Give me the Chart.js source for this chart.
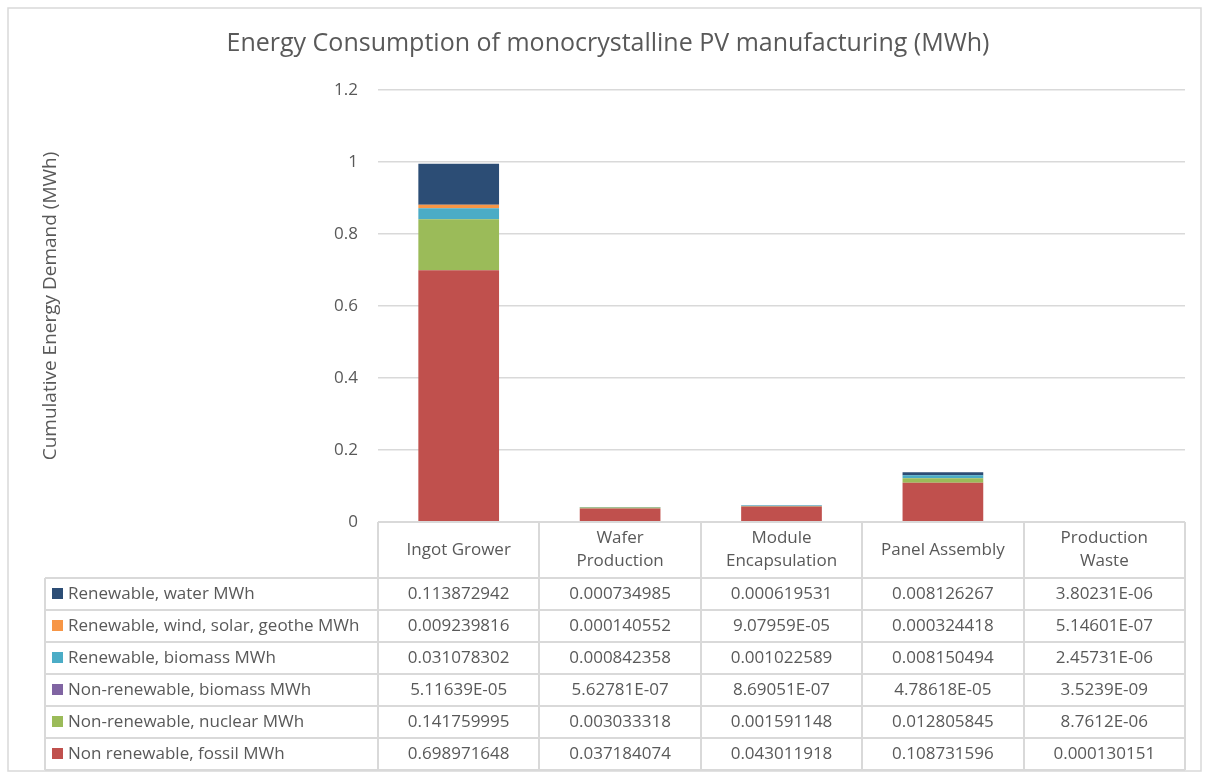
<!DOCTYPE html>
<html>
<head>
<meta charset="utf-8">
<script src="https://cdn.jsdelivr.net/npm/chart.js@4/dist/chart.umd.min.js"></script>
<style>
  html, body { margin: 0; padding: 0; background: #fff; }
  #wrap { position: relative; width: 1205px; height: 774px; }
</style>
</head>
<body>
<div id="wrap"><canvas id="chart"></canvas></div>
<script>
const categories = [['Ingot Grower'], ['Wafer', 'Production'], ['Module', 'Encapsulation'], ['Panel Assembly'], ['Production', 'Waste']];

// stacked bottom -> top
const fossil = [0.698971648, 0.037184074, 0.043011918, 0.108731596, 0.000130151];
const nuclear = [0.141759995, 0.003033318, 0.001591148, 0.012805845, 8.7612e-06];
const nonRenBiomass = [5.11639e-05, 5.62781e-07, 8.69051e-07, 4.78618e-05, 3.5239e-09];
const renBiomass = [0.031078302, 0.000842358, 0.001022589, 0.008150494, 2.45731e-06];
const windSolar = [0.009239816, 0.000140552, 9.07959e-05, 0.000324418, 5.14601e-07];
const water = [0.113872942, 0.000734985, 0.000619531, 0.008126267, 3.80231e-06];

const seriesNames = [
  'Non renewable, fossil MWh',
  'Non-renewable, nuclear MWh',
  'Non-renewable, biomass MWh',
  'Renewable, biomass MWh',
  'Renewable, wind, solar, geothe MWh',
  'Renewable, water MWh',
];
const seriesValues = [fossil, nuclear, nonRenBiomass, renBiomass, windSolar, water];
const seriesColors = ['#C0504D', '#9BBB59', '#8064A2', '#4BACC6', '#F79646', '#2C4D75'];

const FONT = '"Open Sans", sans-serif';
const TEXT = '#595959';
const LINE = '#D9D9D9';

// mimic Excel "General" number format
function fmtGeneral(v) {
  if (v !== 0 && Math.abs(v) < 1e-4) {
    let [m, e] = v.toExponential(5).split('e');
    m = m.replace(/\.?0+$/, '');
    const n = parseInt(e, 10);
    return m + 'E' + (n < 0 ? '-' : '+') + String(Math.abs(n)).padStart(2, '0');
  }
  return v.toFixed(9).replace(/\.?0+$/, '');
}

const tablePlugin = {
  id: 'dataTable',
  afterDraw(chart) {
    const { ctx, chartArea } = chart;
    const xs = chart.scales.x;
    const n = categories.length;
    const colW = (chartArea.right - chartArea.left) / n;
    const top = chartArea.bottom;
    const headerH = 56, rowH = 32, legendLeft = 45;
    const rows = seriesNames.length;
    const tableBottom = top + headerH + rows * rowH;

    ctx.save();
    ctx.strokeStyle = LINE;

    // outer chart frame
    ctx.lineWidth = 1.5;
    ctx.strokeRect(8, 8, 1193, 763);
    ctx.lineWidth = 2;

    // vertical lines of the category columns
    for (let i = 0; i <= n; i++) {
      const x = Math.round(xs.getPixelForValue(0) - colW / 2 + i * colW);
      ctx.beginPath();
      ctx.moveTo(x, top);
      ctx.lineTo(x, tableBottom);
      ctx.stroke();
    }
    // legend column left edge
    ctx.beginPath();
    ctx.moveTo(legendLeft, top + headerH);
    ctx.lineTo(legendLeft, tableBottom);
    ctx.stroke();
    // horizontal lines
    ctx.beginPath();
    ctx.moveTo(chartArea.left, top);
    ctx.lineTo(chartArea.right, top);
    ctx.stroke();
    for (let r = 0; r <= rows; r++) {
      const y = Math.round(top + headerH + r * rowH);
      ctx.beginPath();
      ctx.moveTo(legendLeft, y);
      ctx.lineTo(chartArea.right, y);
      ctx.stroke();
    }

    // header labels
    ctx.fillStyle = TEXT;
    ctx.font = '17px ' + FONT;
    ctx.textAlign = 'center';
    ctx.textBaseline = 'middle';
    categories.forEach((lines, i) => {
      const cx = xs.getPixelForValue(i);
      const cy = top + headerH / 2;
      const lh = 23;
      lines.forEach((t, k) => {
        ctx.fillText(t, cx, cy + (k - (lines.length - 1) / 2) * lh);
      });
    });

    // rows: top of table is the last dataset
    for (let r = 0; r < rows; r++) {
      const s = rows - 1 - r;
      const cy = top + headerH + r * rowH + rowH / 2;
      ctx.fillStyle = seriesColors[s];
      ctx.fillRect(52, cy - 6, 11, 11);
      ctx.fillStyle = TEXT;
      ctx.textAlign = 'left';
      ctx.fillText(seriesNames[s], 68, cy);
      ctx.textAlign = 'center';
      seriesValues[s].forEach((v, i) => {
        ctx.fillText(fmtGeneral(v), xs.getPixelForValue(i), cy);
      });
    }
    ctx.restore();
  }
};

new Chart(document.getElementById('chart'), {
  type: 'bar',
  data: {
    labels: categories,
    datasets: seriesNames.map((name, i) => ({
      label: name,
      data: seriesValues[i],
      backgroundColor: seriesColors[i],
      borderWidth: 0,
      categoryPercentage: 1,
      barPercentage: 0.5,
    })),
  },
  options: {
    responsive: true,
    maintainAspectRatio: false,
    animation: false,
    events: [],
    layout: { padding: { top: 8, left: 31, right: 20, bottom: 252 } },
    plugins: {
      legend: { display: false },
      tooltip: { enabled: false },
      title: {
        display: true,
        text: 'Energy Consumption of monocrystalline PV manufacturing (MWh)',
        color: TEXT,
        font: { family: FONT, size: 25, weight: 'normal' },
        padding: { top: 21, bottom: 31 },
      },
    },
    scales: {
      x: { stacked: true, display: false },
      y: {
        stacked: true,
        min: 0,
        max: 1.2,
        ticks: {
          stepSize: 0.2,
          color: TEXT,
          padding: 20,
          font: { family: FONT, size: 17 },
          callback: (v) => String(Math.round(v * 10) / 10),
        },
        grid: { color: LINE, lineWidth: 1.5, drawTicks: false },
        border: { display: false },
        title: {
          display: true,
          text: 'Cumulative Energy Demand (MWh)',
          color: TEXT,
          font: { family: FONT, size: 19 },
          padding: { top: 8, bottom: 0 },
        },
        afterFit(scale) { scale.width = 347; },
      },
    },
  },
  plugins: [tablePlugin],
});
</script>
</body>
</html>
